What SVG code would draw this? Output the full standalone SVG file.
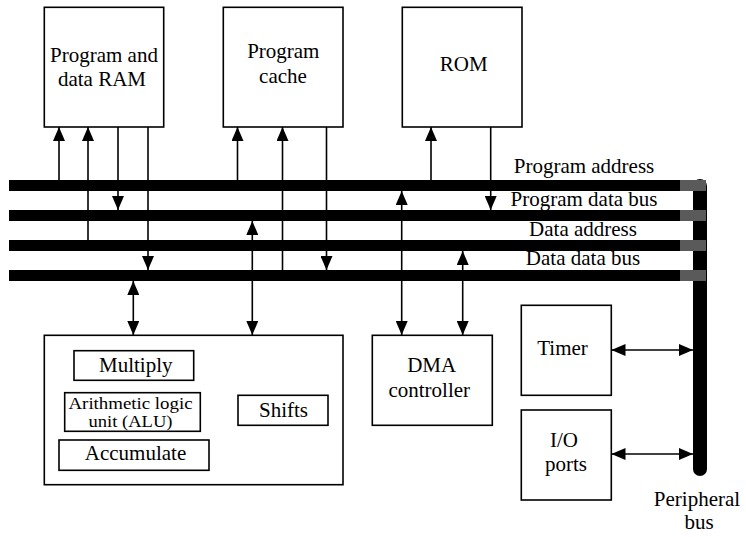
<svg xmlns="http://www.w3.org/2000/svg" width="746" height="537" viewBox="0 0 746 537">
<style>
.box{fill:#fff;stroke:#000;stroke-width:1.6}
text{font-family:'Liberation Serif','Times New Roman','DejaVu Serif',serif;font-size:21px;fill:#000;text-anchor:middle}
text.s{font-size:16px}
.c{stroke:#000;stroke-width:1.6;fill:none}
.a{marker-end:url(#ah)}
.b{marker-start:url(#ah);marker-end:url(#ah)}
.bus{fill:#000}
.g{fill:#5a5a5a}
</style>
<defs>
<marker id="ah" viewBox="0 0 14 12" refX="14" refY="6" markerWidth="14" markerHeight="12" markerUnits="userSpaceOnUse" orient="auto-start-reverse">
<path d="M0,0 L14,6 L0,12 z" fill="#000"/>
</marker>
</defs>
<g id="connectors">
<line class="c a" x1="59" y1="181" x2="59" y2="127"/>
<line class="c a" x1="88" y1="241" x2="88" y2="127"/>
<line class="c a" x1="118" y1="127" x2="118" y2="210"/>
<line class="c a" x1="148" y1="127" x2="148" y2="270"/>
<line class="c a" x1="237.5" y1="181" x2="237.5" y2="127"/>
<line class="c a" x1="282.5" y1="271" x2="282.5" y2="127"/>
<line class="c a" x1="326.5" y1="127" x2="326.5" y2="270"/>
<line class="c a" x1="431" y1="181" x2="431" y2="127"/>
<line class="c a" x1="490.7" y1="127" x2="490.7" y2="210"/>
<line class="c b" x1="133.3" y1="281" x2="133.3" y2="335"/>
<line class="c b" x1="252.3" y1="221" x2="252.3" y2="335"/>
<line class="c b" x1="401.7" y1="191" x2="401.7" y2="335"/>
<line class="c b" x1="462.7" y1="251" x2="462.7" y2="335"/>
<line class="c b" x1="611.5" y1="350" x2="693" y2="350"/>
<line class="c b" x1="611.5" y1="454" x2="693" y2="454"/>
<line class="c" x1="133.5" y1="380" x2="133.5" y2="393"/>
<line class="c" x1="133.5" y1="431" x2="133.5" y2="440"/>
</g>
<g id="buses">
<rect class="bus" x="693" y="179" width="14" height="297" rx="7"/>
<rect class="bus" x="9" y="180" width="690" height="11"/>
<rect class="bus" x="9" y="210" width="690" height="11"/>
<rect class="bus" x="9" y="240" width="690" height="11"/>
<rect class="bus" x="9" y="270" width="690" height="11"/>
<rect class="g" x="680" y="180" width="26" height="11"/>
<rect class="g" x="680" y="210" width="26" height="11"/>
<rect class="g" x="680" y="240" width="26" height="11"/>
<rect class="g" x="680" y="270" width="26" height="11"/>
<text x="584" y="172.5">Program address</text>
<text x="584" y="206">Program data bus</text>
<text x="583" y="236">Data address</text>
<text x="583" y="265">Data data bus</text>
<text x="697" y="505.5">Peripheral</text>
<text x="699" y="529">bus</text>
</g>
<g id="ram">
<rect class="box" x="44.3" y="7.3" width="119.4" height="119.7"/>
<text x="104" y="62">Program and</text>
<text x="102" y="86">data RAM</text>
</g>
<g id="cache">
<rect class="box" x="223.3" y="7.3" width="119.7" height="119.7"/>
<text x="283.3" y="58.3">Program</text>
<text x="283" y="82.7">cache</text>
</g>
<g id="rom">
<rect class="box" x="402.3" y="7.3" width="119.7" height="119.7"/>
<text x="463.7" y="70.5">ROM</text>
</g>
<g id="alu-unit">
<rect class="box" x="44.3" y="335.3" width="298.7" height="149.4"/>
</g>
<g id="multiply">
<rect class="box" x="74" y="350.7" width="119.7" height="29.6"/>
<text x="135.8" y="371.7">Multiply</text>
</g>
<g id="alu">
<rect class="box" x="64.7" y="392.7" width="135.6" height="38.6"/>
<text class="s" x="130.5" y="409" textLength="124" lengthAdjust="spacingAndGlyphs">Arithmetic logic</text>
<text class="s" x="130.5" y="427.3" textLength="84" lengthAdjust="spacingAndGlyphs">unit (ALU)</text>
</g>
<g id="accumulate">
<rect class="box" x="59" y="440" width="150" height="30.3"/>
<text x="135.5" y="460">Accumulate</text>
</g>
<g id="shifts">
<rect class="box" x="238" y="395.3" width="90" height="30"/>
<text x="283.5" y="416.7">Shifts</text>
</g>
<g id="dma">
<rect class="box" x="372.3" y="335.3" width="120" height="90"/>
<text x="431.7" y="372">DMA</text>
<text x="429.3" y="396.7">controller</text>
</g>
<g id="timer">
<rect class="box" x="521.3" y="305.3" width="90" height="90"/>
<text x="562.5" y="355">Timer</text>
</g>
<g id="io">
<rect class="box" x="521.3" y="410" width="90" height="90"/>
<text x="564" y="446.7">I/O</text>
<text x="566" y="470.7">ports</text>
</g>
</svg>
